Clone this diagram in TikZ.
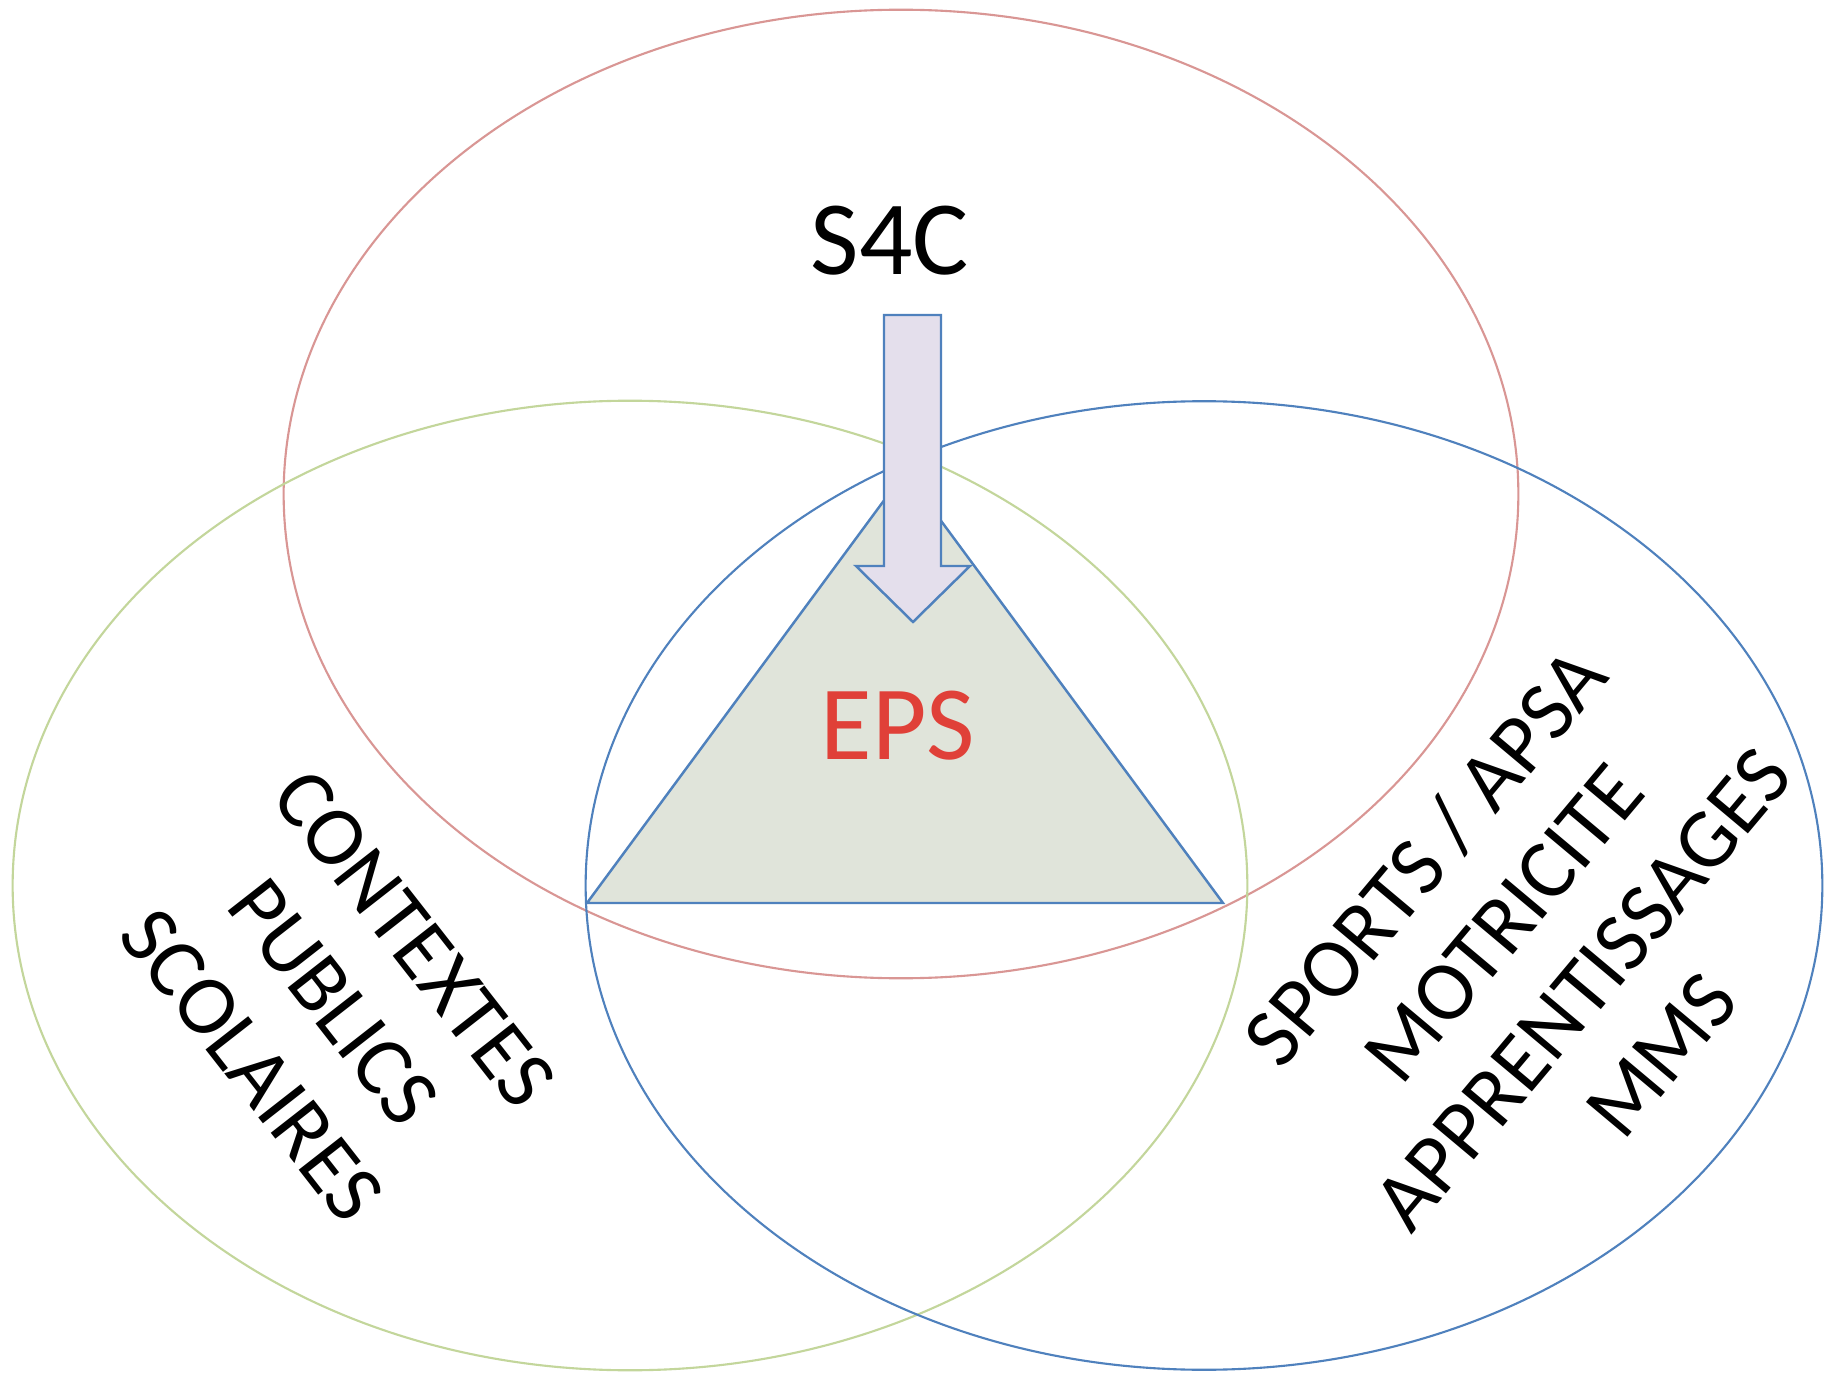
\documentclass[tikz,border=0pt]{standalone}
\usepackage{fontspec}
\setmainfont{Carlito}
\definecolor{ellred}{HTML}{D99694}
\definecolor{ellgreen}{HTML}{C3D69B}
\definecolor{ellblue}{HTML}{4F81BD}
\definecolor{trifill}{RGB}{224,228,218}
\definecolor{arrfill}{RGB}{228,223,236}
\definecolor{epsred}{RGB}{224,64,56}
\begin{document}
\begin{tikzpicture}[x=0.01cm,y=-0.01cm,
  ring/.style={line width=0.6pt},
  shapeline/.style={draw=ellblue,line width=0.7pt,line join=miter},
  bigtext/.style={inner sep=0pt,font=\fontsize{30}{36}\selectfont},
  sidetext/.style={inner sep=0pt,align=center,font=\fontsize{24}{29.2}\selectfont}]
\fill[white] (0,0) rectangle (1832,1373);
\useasboundingbox (0,0) rectangle (1832,1373);
% ellipses
\draw[ring,ellred]   (901,494)  ellipse [x radius=6.17cm, y radius=4.84cm];
\draw[ring,ellgreen] (630,885.5) ellipse [x radius=6.17cm, y radius=4.845cm];
\draw[ring,ellblue]  (1204,885.5) ellipse [x radius=6.18cm, y radius=4.84cm];
% triangle
\draw[shapeline,fill=trifill] (905,472) -- (1223,903) -- (587,903) -- cycle;
% block arrow
\draw[shapeline,fill=arrfill] (884,315) -- (941,315) -- (941,566) -- (970,566)
  -- (913,622) -- (856,566) -- (884,566) -- cycle;
% texts
\node[bigtext] (s4c) at (890,241) {S4C};
\node[bigtext,text=epsred] (eps) at (898,725.5) {EPS};
\node[sidetext,rotate=-52] (left) at (333,1002) {CONTEXTES\\PUBLICS\\SCOLAIRES};
\node[sidetext,rotate=50] (right) at (1542,955) {SPORTS / APSA\\MOTRICITE\\APPRENTISSAGES\\MMS};
\end{tikzpicture}
\end{document}
